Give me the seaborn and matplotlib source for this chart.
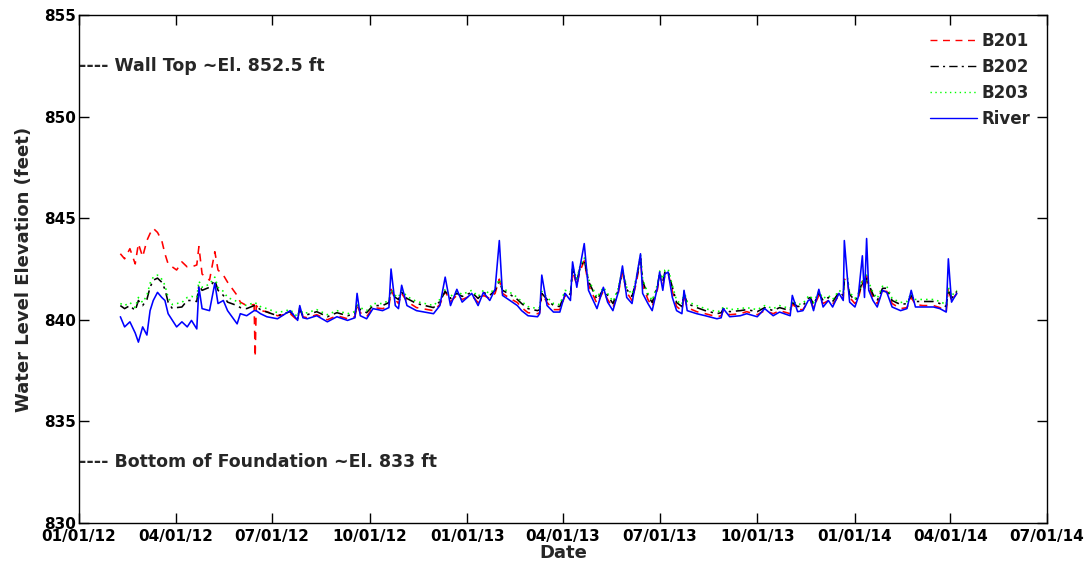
import pandas as pd
import matplotlib
matplotlib.use('Agg')
import matplotlib.pyplot as plt
import matplotlib.dates as mdates
from matplotlib.lines import Line2D
import seaborn as sns

# days since 01/01/12
start = '2012-01-01'
day = [39, 43, 48, 53, 56, 60, 64, 67, 70, 74, 78, 81, 84, 88, 92, 97, 102, 106, 111, 113,
       116, 123, 128, 131, 136, 140, 149, 152, 158, 165, 166, 167, 171, 177, 187, 199, 206, 208, 211, 215,
       224, 234, 243, 253, 260, 262, 265, 271, 277, 286, 292, 294, 298, 301, 304, 309, 318, 334, 340, 345,
       350, 356, 361, 370, 376, 381, 387, 392, 396, 399, 406, 413, 417, 423, 432, 434, 436, 441, 447, 453,
       458, 463, 465, 469, 472, 476, 480, 488, 494, 498, 503, 508, 512, 516, 521, 525, 529, 531, 536, 540,
       545, 547, 550, 552, 555, 559, 563, 568, 570, 573, 582, 590, 601, 605, 607, 613, 623, 629, 639, 646,
       654, 660, 670, 672, 677, 682, 687, 689, 692, 697, 701, 706, 710, 716, 720, 721, 724, 726, 731, 734,
       738, 740, 742, 744, 748, 752, 757, 761, 766, 774, 780, 784, 788, 795, 805, 811, 817, 819, 822, 824,
       827]

river = [840.15, 839.65, 839.90, 839.35, 838.90, 839.65, 839.25, 840.45, 840.95, 841.35, 841.10, 840.95, 840.30, 839.97, 839.65, 839.90, 839.65, 839.97, 839.55, 841.60,
         840.55, 840.45, 841.80, 840.80, 840.95, 840.45, 839.80, 840.30, 840.20, 840.45, 840.45, 840.45, 840.30, 840.15, 840.05, 840.45, 839.97, 840.70, 840.10, 840.05,
         840.20, 839.90, 840.15, 839.97, 840.10, 841.30, 840.20, 840.05, 840.55, 840.45, 840.60, 842.50, 840.70, 840.55, 841.70, 840.70, 840.45, 840.30, 840.70, 842.10,
         840.70, 841.50, 840.87, 841.30, 840.70, 841.35, 840.95, 841.50, 843.90, 841.20, 840.95, 840.70, 840.45, 840.20, 840.15, 840.30, 842.20, 840.70, 840.38, 840.38,
         841.30, 840.95, 842.85, 841.60, 842.60, 843.75, 841.45, 840.55, 841.60, 840.87, 840.45, 841.35, 842.65, 841.10, 840.80, 842.00, 843.25, 841.30, 840.80, 840.45,
         841.60, 842.35, 841.45, 842.25, 842.35, 841.10, 840.45, 840.30, 841.45, 840.45, 840.30, 840.20, 840.05, 840.10, 840.55, 840.15, 840.20, 840.30, 840.15, 840.55,
         840.20, 840.38, 840.20, 841.20, 840.40, 840.45, 840.95, 841.00, 840.45, 841.50, 840.63, 840.95, 840.63, 841.30, 840.95, 843.90, 842.00, 840.87, 840.63, 841.10,
         843.15, 841.10, 844.00, 841.45, 840.95, 840.63, 841.45, 841.35, 840.63, 840.45, 840.55, 841.45, 840.63, 840.63, 840.63, 840.55, 840.38, 843.00, 840.87, 841.05,
         841.30]

b201 = [843.25, 843.00, 843.50, 842.75, 843.75, 843.10, 843.90, 844.25, 844.50, 844.30, 843.90, 843.25, 842.75, 842.60, 842.45, 842.85, 842.60, 842.60, 842.70, 843.60,
        842.25, 841.95, 843.35, 842.45, 842.20, 841.85, 841.20, 840.87, 840.70, 840.75, 838.17, 840.70, 840.45, 840.40, 840.20, 840.30, 839.97, 840.60, 840.15, 840.10,
        840.25, 840.00, 840.20, 840.05, 840.15, 840.70, 840.35, 840.15, 840.60, 840.55, 840.65, 841.50, 841.00, 840.80, 841.30, 840.90, 840.60, 840.45, 840.75, 841.40,
        840.90, 841.20, 841.00, 841.20, 840.85, 841.20, 841.05, 841.30, 842.00, 841.30, 841.05, 840.85, 840.60, 840.35, 840.30, 840.35, 841.30, 840.85, 840.50, 840.50,
        841.20, 841.10, 842.40, 841.70, 842.40, 842.90, 841.70, 840.80, 841.40, 841.00, 840.60, 841.30, 842.30, 841.35, 840.95, 841.80, 843.00, 841.70, 841.00, 840.65,
        841.50, 842.20, 841.70, 842.20, 842.30, 841.40, 840.65, 840.45, 841.20, 840.60, 840.40, 840.30, 840.15, 840.20, 840.45, 840.25, 840.30, 840.40, 840.25, 840.45,
        840.30, 840.45, 840.30, 840.80, 840.50, 840.50, 840.90, 840.95, 840.60, 841.20, 840.80, 840.95, 840.75, 841.20, 841.05, 842.00, 841.90, 841.10, 840.80, 841.00,
        841.90, 841.40, 842.20, 841.60, 841.10, 840.80, 841.40, 841.40, 840.80, 840.55, 840.60, 841.10, 840.75, 840.70, 840.70, 840.60, 840.40, 841.60, 840.90, 841.10,
        841.30]

b202 = [840.70, 840.55, 840.70, 840.45, 840.95, 840.70, 841.00, 841.60, 841.95, 842.05, 841.85, 841.50, 840.87, 840.55, 840.60, 840.63, 840.95, 840.95, 840.90, 841.70,
        841.45, 841.60, 841.95, 841.45, 841.20, 840.87, 840.70, 840.60, 840.55, 840.70, 840.70, 840.65, 840.50, 840.38, 840.20, 840.40, 840.05, 840.50, 840.20, 840.25,
        840.40, 840.15, 840.35, 840.20, 840.30, 840.75, 840.50, 840.35, 840.70, 840.70, 840.85, 841.40, 841.10, 841.00, 841.35, 841.05, 840.80, 840.60, 840.90, 841.40,
        841.05, 841.30, 841.15, 841.35, 841.05, 841.35, 841.20, 841.45, 841.90, 841.45, 841.25, 841.00, 840.80, 840.55, 840.45, 840.50, 841.30, 841.00, 840.70, 840.65,
        841.35, 841.25, 842.50, 841.90, 842.55, 842.95, 841.90, 841.00, 841.50, 841.20, 840.80, 841.45, 842.40, 841.50, 841.15, 841.95, 843.10, 841.90, 841.20, 840.85,
        841.65, 842.30, 841.90, 842.35, 842.40, 841.60, 840.85, 840.65, 841.30, 840.80, 840.60, 840.45, 840.30, 840.35, 840.55, 840.40, 840.45, 840.50, 840.40, 840.60,
        840.45, 840.60, 840.45, 840.85, 840.65, 840.70, 841.05, 841.10, 840.75, 841.30, 840.95, 841.10, 840.90, 841.35, 841.20, 841.90, 841.95, 841.25, 840.95, 841.15,
        841.90, 841.55, 842.10, 841.75, 841.25, 840.95, 841.55, 841.55, 840.95, 840.75, 840.80, 841.20, 840.90, 840.90, 840.90, 840.80, 840.65, 841.50, 841.05, 841.20,
        841.40]

b203 = [840.80, 840.70, 840.85, 840.60, 841.10, 840.85, 841.20, 841.80, 842.10, 842.20, 842.00, 841.70, 841.10, 840.75, 840.80, 840.85, 841.10, 841.15, 841.10, 841.90,
        841.60, 841.75, 842.10, 841.60, 841.40, 841.10, 840.90, 840.80, 840.70, 840.85, 840.85, 840.80, 840.65, 840.55, 840.35, 840.50, 840.15, 840.60, 840.30, 840.35,
        840.50, 840.25, 840.45, 840.30, 840.40, 840.80, 840.60, 840.45, 840.80, 840.80, 840.95, 841.50, 841.20, 841.10, 841.45, 841.15, 840.90, 840.70, 841.00, 841.50,
        841.15, 841.40, 841.25, 841.45, 841.15, 841.45, 841.30, 841.55, 842.00, 841.55, 841.35, 841.10, 840.90, 840.65, 840.55, 840.60, 841.40, 841.10, 840.80, 840.75,
        841.45, 841.35, 842.60, 842.00, 842.65, 843.05, 842.00, 841.10, 841.60, 841.30, 840.90, 841.55, 842.50, 841.60, 841.25, 842.05, 843.20, 842.00, 841.30, 840.95,
        841.75, 842.40, 842.00, 842.45, 842.50, 841.70, 840.95, 840.75, 841.40, 840.90, 840.70, 840.55, 840.40, 840.45, 840.65, 840.50, 840.55, 840.60, 840.50, 840.70,
        840.55, 840.70, 840.55, 840.95, 840.75, 840.80, 841.15, 841.20, 840.85, 841.40, 841.05, 841.20, 841.00, 841.45, 841.30, 842.00, 842.05, 841.35, 841.05, 841.25,
        842.00, 841.65, 842.20, 841.85, 841.35, 841.05, 841.65, 841.65, 841.05, 840.85, 840.90, 841.30, 841.00, 841.00, 841.00, 840.90, 840.75, 841.60, 841.15, 841.30,
        841.45]

wells = ['B201', 'B202', 'B203', 'River']
colors = {'B201': '#ff0000', 'B202': '#000000', 'B203': '#00ff00', 'River': '#0000ff'}
dashes = {'B201': (5, 4), 'B202': (6, 3, 1.5, 3), 'B203': (1, 2.5), 'River': ''}
yticks = [830, 835, 840, 845, 850, 855]
xticks = ['2012-01-01', '2012-04-01', '2012-07-01', '2012-10-01', '2013-01-01', '2013-04-01',
          '2013-07-01', '2013-10-01', '2014-01-01', '2014-04-01', '2014-07-01']

sns.set_style('white')
plt.rcParams['font.family'] = ['DejaVu Sans']
plt.rcParams['font.weight'] = 'bold'
plt.rcParams['axes.labelweight'] = 'bold'

dates = pd.Timestamp(start) + pd.to_timedelta(day, unit='D')
df = pd.DataFrame({'date': dates, 'B201': b201, 'B202': b202, 'B203': b203, 'River': river})
df = df.melt(id_vars='date', var_name='well', value_name='elev')

fig = plt.figure(figsize=(10.89, 5.73), dpi=100)
ax = fig.add_axes([0.0725, 0.0873, 0.889, 0.8865])

sns.lineplot(data=df, x='date', y='elev', hue='well', style='well',
             hue_order=wells, style_order=wells, palette=colors, dashes=dashes,
             linewidth=1.15, estimator=None, legend=False, ax=ax)

handles = [Line2D([], [], color=colors[w], lw=1,
                  dashes=dashes[w] if dashes[w] else (None, None)) for w in wells]
ax.legend(handles, wells, loc='upper right', frameon=False, fontsize=12,
          handlelength=2.8, handletextpad=0.3, labelspacing=0.48, borderpad=0.5)

ax.text(pd.Timestamp(start), 852.5, '---- Wall Top ~El. 852.5 ft', ha='left', va='center', fontsize=12.5)
ax.text(pd.Timestamp(start), 833, '---- Bottom of Foundation ~El. 833 ft', ha='left', va='center', fontsize=12.5)

ax.set_ylim(830, 855)
ax.set_yticks(yticks)
ax.set_xlim(pd.Timestamp(xticks[0]), pd.Timestamp(xticks[-1]))
ax.set_xticks(pd.to_datetime(xticks))
ax.xaxis.set_major_formatter(mdates.DateFormatter('%m/%d/%y'))
ax.tick_params(direction='in', length=7, width=1, top=True, right=True,
               bottom=True, left=True, labelsize=11, pad=2, colors='black')
ax.tick_params(axis='x', pad=4)
for s in ax.spines.values():
    s.set_color('black')
    s.set_linewidth(1)

ax.set_xlabel('Date', fontsize=13, labelpad=0)
ax.set_ylabel('Water Level Elevation (feet)', fontsize=13, labelpad=8)

fig.savefig('out.png', dpi=100)
